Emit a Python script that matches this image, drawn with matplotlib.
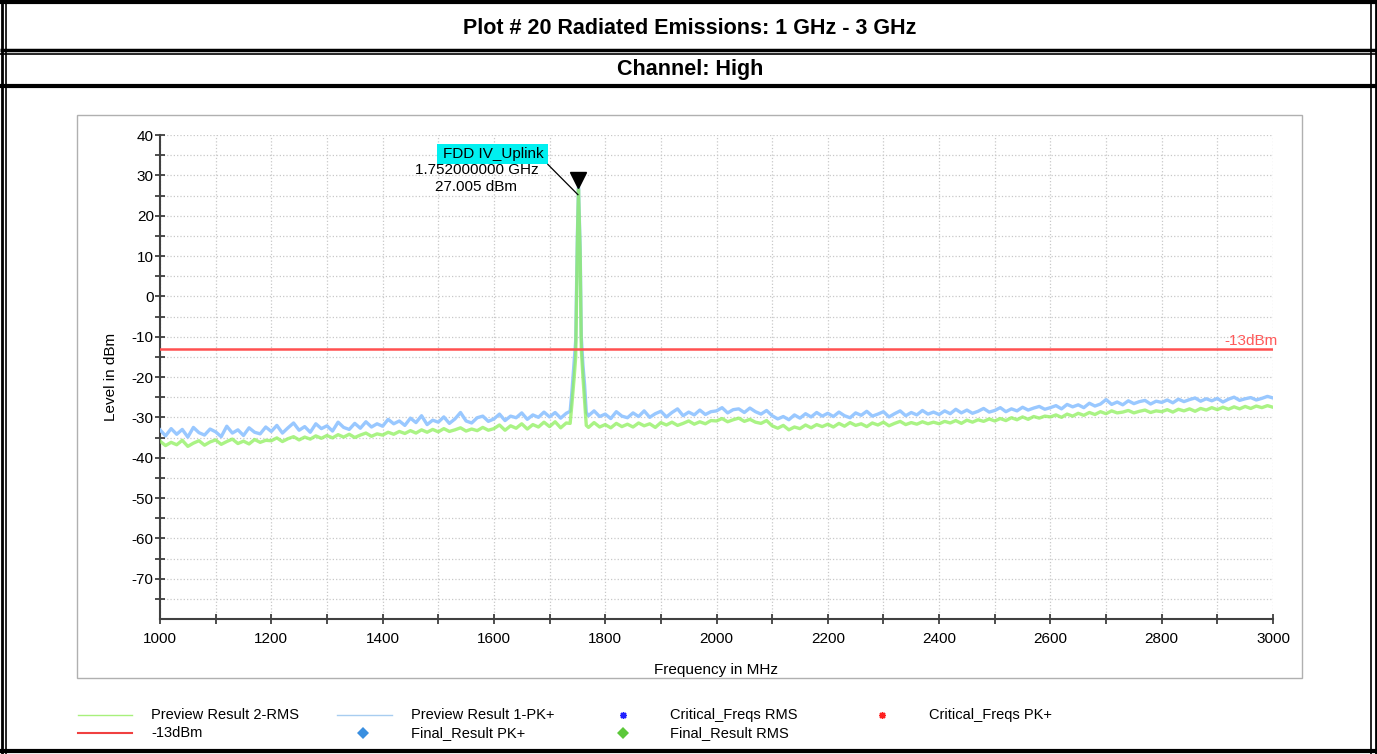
import numpy as np
import matplotlib
matplotlib.use('Agg')
import matplotlib.pyplot as plt
from matplotlib.patches import Rectangle

plt.rcParams['font.family'] = ['Liberation Sans', 'DejaVu Sans']
plt.rcParams['axes.unicode_minus'] = False

# --- data ----------------------------------------------------------------
# preview traces, 10 MHz grid 1000..3000 MHz
grid_f = np.arange(1000, 3001, 10)

pk_grid = [
    -33.1, -34.6, -32.8, -34.2, -33.0, -34.9, -32.5, -33.8, -34.4, -32.9, -33.6, -34.8, -32.2, -33.9, -33.1, -34.5, -32.6, -33.7, -34.1, -32.4,
    -33.5, -32.0, -33.9, -32.6, -31.4, -33.2, -32.3, -33.7, -31.6, -32.8, -32.1, -33.4, -31.2, -32.5, -33.0, -31.5, -32.7, -31.1, -32.4, -31.6,
    -32.2, -30.5, -31.6, -30.9, -32.0, -30.2, -31.3, -29.6, -31.8, -30.7, -31.2, -29.9, -31.5, -30.4, -28.8, -30.9, -31.4, -30.1, -29.7, -31.0,
    -30.4, -29.2, -30.8, -29.7, -30.1, -28.9, -30.5, -29.4, -30.0, -28.7, -29.9, -28.8, -30.2, -29.0, -24.0, 15.0, -17.0, -29.6, -28.4, -29.8,
    -29.2, -30.3, -28.6, -29.7, -30.1, -28.9, -29.8, -28.4, -30.0, -29.1, -28.5, -29.9, -28.8, -27.9, -29.6, -28.7, -29.4, -28.2, -29.3, -28.6,
    -28.4, -27.6, -28.9, -28.1, -27.9, -28.8, -27.7, -28.6, -29.2, -28.3, -29.6, -30.4, -29.8, -30.6, -29.4, -30.2, -29.1, -29.9, -28.8, -29.7,
    -29.0, -29.8, -28.7, -29.6, -30.1, -28.9, -29.5, -28.5, -29.7, -29.2, -28.6, -29.9, -29.1, -28.4, -29.6, -28.8, -29.4, -28.3, -29.2, -28.7,
    -29.3, -28.4, -29.1, -28.0, -28.9, -28.2, -29.0, -28.5, -27.8, -28.7, -28.3, -27.6, -28.6, -27.9, -28.4, -27.5, -28.2, -27.7, -27.3, -28.0,
    -27.6, -27.1, -27.9, -26.8, -27.4, -26.9, -27.6, -26.5, -27.2, -26.7, -25.6, -26.8, -26.2, -26.9, -25.9, -26.6, -26.1, -25.8, -26.7, -26.0,
    -26.3, -25.7, -26.4, -25.5, -26.1, -25.6, -25.2, -26.0, -25.4, -25.9, -25.3, -26.2, -25.5, -25.0, -25.8, -25.4, -25.1, -25.7, -25.3, -24.8,
    -25.2]

rms_grid = [
    -35.9, -37.0, -36.2, -36.8, -35.7, -37.2, -36.4, -35.8, -36.9, -36.1, -35.6, -36.7, -36.0, -35.4, -36.5, -35.9, -36.6, -35.5, -36.2, -35.7,
    -35.8, -35.1, -36.0, -35.3, -34.8, -35.6, -34.9, -35.4, -34.6, -35.2, -34.5, -35.1, -34.3, -34.9, -34.2, -35.0, -34.4, -33.9, -34.7, -34.1,
    -34.4, -33.7, -34.2, -33.5, -34.0, -33.3, -33.9, -33.1, -33.7, -33.0, -33.6, -32.8, -33.5, -33.1, -32.6, -33.4, -32.9, -33.3, -32.5, -33.2,
    -32.8, -31.9, -33.2, -32.1, -32.7, -31.6, -32.9, -31.8, -32.4, -31.2, -32.3, -31.1, -32.6, -31.4, -27.0, 13.0, -20.0, -32.5, -31.3, -32.4,
    -31.8, -32.6, -31.5, -32.3, -31.7, -32.4, -31.4, -32.1, -31.6, -32.5, -31.3, -31.9, -31.2, -32.0, -31.5, -30.9, -31.7, -31.1, -31.6, -30.8,
    -30.9, -30.3, -31.1, -30.6, -30.2, -31.0, -30.5, -31.2, -31.5, -30.8, -32.1, -32.7, -32.0, -33.1, -32.4, -32.8, -31.9, -32.6, -31.8, -32.3,
    -31.7, -32.4, -31.5, -32.2, -31.3, -32.0, -31.6, -32.3, -31.4, -31.9, -31.2, -32.1, -31.5, -31.0, -31.8, -31.3, -31.7, -31.1, -31.6, -31.2,
    -31.6, -31.0, -31.4, -30.8, -31.5, -30.7, -31.2, -30.6, -31.0, -30.4, -30.9, -30.3, -30.8, -30.1, -30.6, -29.9, -30.5, -29.8, -30.2, -29.7,
    -29.9, -29.4, -30.0, -29.2, -29.7, -29.0, -29.5, -28.8, -29.3, -28.6, -29.1, -28.4, -28.9, -28.7, -28.3, -28.9, -28.5, -28.2, -28.8, -28.4,
    -28.6, -28.1, -28.7, -28.0, -28.4, -27.9, -28.5, -27.8, -28.2, -27.6, -28.1, -27.5, -28.0, -27.4, -27.9, -27.3, -27.8, -27.2, -27.6, -27.1,
    -27.5]

# extra points around the carrier
peak_f = [1737, 1744, 1747, 1752, 1755, 1757, 1763, 1766]
pk_peak = [-28.5, -16.5, -11.0, 27.0, 12.0, -10.0, -22.0, -28.8]
rms_peak = [-31.5, -20.5, -15.0, 26.5, 10.0, -13.0, -26.0, -32.0]

limit_dbm = -13
marker_f = 1752
marker_lvl = 27.005

yticks = list(range(-70, 41, 10))
xticks = list(range(1000, 3001, 200))

# merge grid + peak points
f_all = np.concatenate([grid_f, peak_f])
order = np.argsort(f_all)
f_all = f_all[order]
pk_all = np.concatenate([pk_grid, pk_peak])[order]
rms_all = np.concatenate([rms_grid, rms_peak])[order]

# --- figure ---------------------------------------------------------------
W, H = 1377, 754
fig = plt.figure(figsize=(W / 100, H / 100), dpi=100)

bg = fig.add_axes([0, 0, 1, 1])
bg.set_xlim(0, W)
bg.set_ylim(H, 0)
bg.axis('off')

# table style frame
blk = dict(color='black', solid_capstyle='butt')
bg.plot([0, W], [1.5, 1.5], lw=3, **blk)
bg.plot([1.5, 1.5], [0, H], lw=2, **blk)
bg.plot([6, 6], [0, H], lw=1.2, **blk)
bg.plot([W - 1.5, W - 1.5], [0, H], lw=2, **blk)
bg.plot([W - 6, W - 6], [0, H], lw=1.2, **blk)
bg.plot([0, W], [49.5, 49.5], lw=2.5, **blk)
bg.plot([0, W], [54, 54], lw=1.2, **blk)
bg.plot([0, W], [86, 86], lw=3, **blk)
bg.plot([0, W], [751, 751], lw=3, **blk)

bg.text(690, 29, 'Plot # 20 Radiated Emissions: 1 GHz - 3 GHz', ha='center', va='center',
        fontsize=15.5, fontweight='bold', family=['Liberation Sans Narrow', 'Liberation Sans'])
bg.text(690, 69, 'Channel: High', ha='center', va='center',
        fontsize=15.5, fontweight='bold', family=['Liberation Sans Narrow', 'Liberation Sans'])

# inner grey panel
bg.add_patch(Rectangle((77, 115), 1302 - 77, 678 - 115, fill=False, ec='#b0b0b0', lw=1))

# legend drawn by hand
leg_fs = 10.5
bg.plot([78, 132], [715, 715], color='#a8f07c', lw=1)
bg.text(151, 715, 'Preview Result 2-RMS', va='center', fontsize=leg_fs)
bg.plot([337, 392], [715, 715], color='#a8cdf0', lw=1)
bg.text(411, 715, 'Preview Result 1-PK+', va='center', fontsize=leg_fs)
bg.plot([623], [715], marker=(8, 2, 0), color='#2020ff', ms=5, mew=1)
bg.text(670, 715, 'Critical_Freqs RMS', va='center', fontsize=leg_fs)
bg.plot([882], [715], marker=(8, 2, 0), color='#ff2020', ms=5, mew=1)
bg.text(929, 715, 'Critical_Freqs PK+', va='center', fontsize=leg_fs)
bg.plot([78, 132], [733, 733], color='#f04040', lw=1.5)
bg.text(151, 733, '-13dBm', va='center', fontsize=leg_fs)
bg.plot([363], [733], marker='D', color='#3a8fe0', ms=6, mew=0)
bg.text(411, 733, 'Final_Result PK+', va='center', fontsize=leg_fs)
bg.plot([623], [733], marker='D', color='#5cc83a', ms=6, mew=0)
bg.text(670, 733, 'Final_Result RMS', va='center', fontsize=leg_fs)

# --- main plot ------------------------------------------------------------
ax = fig.add_axes([160 / W, 1 - 619 / H, 1113 / W, 484 / H])
ax.patch.set_alpha(0)

ax.plot(f_all, pk_all, color='#99c8ff', lw=2.4, zorder=3)
ax.plot(f_all, rms_all, color='#8ef05c', lw=2.4, alpha=0.75, zorder=4)
ax.axhline(limit_dbm, color='#ff5050', lw=1.8, zorder=5)
ax.text(3008, limit_dbm + 0.3, '-13dBm', color='#ff5a5a', fontsize=11, ha='right', va='bottom')

ax.plot([marker_f], [marker_lvl + 1.8], marker='v', color='black', ms=11, zorder=6)
ax.add_patch(Rectangle((1498, 32.7), 199, 5.0, color='#00f0f0', zorder=5, lw=0))
ax.text(1509, 35.2, 'FDD IV_Uplink', fontsize=11, va='center', ha='left', zorder=6)
ax.text(1570, 31.4, '1.752000000 GHz', fontsize=11, va='center', ha='center', zorder=6)
ax.text(1568, 27.0, '27.005 dBm', fontsize=11, va='center', ha='center', zorder=6)
ax.plot([1697, 1751], [32.7, 25.2], color='black', lw=0.9, zorder=6)

ax.set_xlim(1000, 3000)
ax.set_ylim(-80, 40)
ax.set_xticks(xticks)
ax.set_xticks(range(1100, 3000, 200), minor=True)
ax.set_yticks(yticks)
ax.set_yticks(range(-75, 40, 10), minor=True)
ax.grid(True, which='both', color='#c8c8c8', ls=':', lw=0.9)
ax.tick_params(which='both', direction='inout', length=7, width=1.2, color='#303030',
               labelsize=11)
ax.tick_params(axis='x', pad=6)
ax.tick_params(axis='y', pad=1)
for s in ['top', 'right']:
    ax.spines[s].set_visible(False)
for s in ['left', 'bottom']:
    ax.spines[s].set_color('#404040')
    ax.spines[s].set_linewidth(1.5)

ax.set_xlabel('Frequency in MHz', fontsize=11, labelpad=12)
ax.set_ylabel('Level in dBm', fontsize=11, labelpad=10)

fig.savefig('out.png', dpi=100)
